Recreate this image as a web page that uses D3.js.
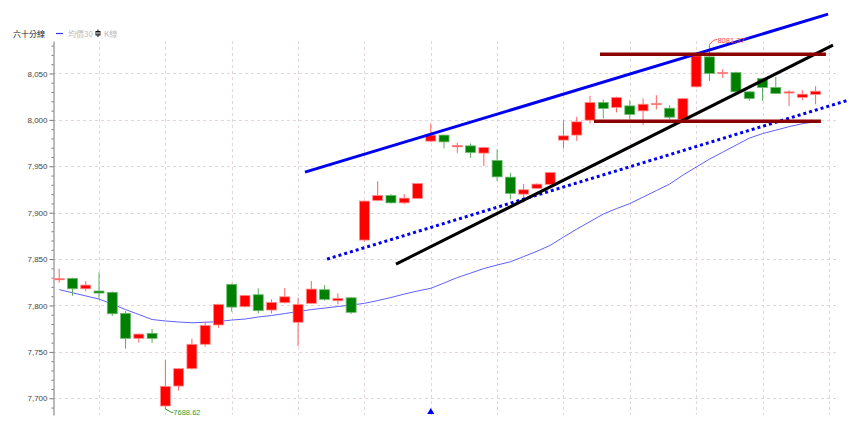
<!DOCTYPE html>
<html><head><meta charset="utf-8">
<script src="https://cdn.jsdelivr.net/npm/d3@7/dist/d3.min.js"></script>
<style>body{margin:0;background:#fff}svg{display:block}</style>
</head><body>
<svg id="c" width="863" height="443"></svg>
<script>
// ---- data ----
const categories = d3.range(58);
const open = [7828,7829.2,7818,7815.6,7814.2,7791.5,7764.6,7770,7691.7,7713.2,
  7731.9,7758.2,7779,7822.8,7798.7,7811.6,7795.1,7803,7781.9,7802.3,
  7817,7805.1,7808.3,7870.5,7913.2,7918.6,7910.6,7915.4,7977.1,7983.6,
  7971,7972,7964.2,7956.3,7938.3,7920,7926.2,7930.5,7978.2,7983.6,
  7999.7,8018.8,8013.4,8015.1,8009.7,8016.9,8012.6,8000.2,8035.6,8067.9,
  8050,8051,8030.2,8044.6,8034.9,8029.1,8024.2,8027.4];
const close = [7829,7818,7822,7813.4,7791.1,7764.6,7769.2,7764.6,7712.9,7731.9,
  7758.2,7778.6,7801.2,7798.3,7810.9,7794.4,7803.4,7809.4,7801.2,7817.7,
  7806.6,7807.7,7792.6,7912.5,7918.6,7910.6,7915.7,7931.5,7983.6,7976.3,
  7972.5,7964.9,7970.3,7938.6,7920.8,7924.7,7930.8,7943.4,7982.8,7997.9,
  8018.8,8012.3,8024.2,8005.8,8016.9,8017.7,8002.9,8022.9,8069,8050,
  8051.1,8030.2,8023.1,8034.9,8028.5,8030.2,8027.7,8030.9];
const high = [7839.6,7830,7826.3,7835.7,7815,7794,7769.5,7774.6,7741.3,7732.5,
  7764.2,7782.5,7802,7823.5,7811.5,7818.5,7806.6,7818.8,7808.3,7826.3,
  7822,7813.1,7809,7913,7934,7920,7920,7932,7996.2,7984,
  7975.3,7974.6,7971,7968.2,7943,7930.8,7931.5,7944,7999.7,8003.3,
  8025.9,8022,8025,8021.2,8023.1,8026.6,8015.9,8023.5,8071,8081.37,
  8054.6,8052,8031,8045,8046.3,8032,8032,8036.3];
const low = [7824.5,7810.5,7815.6,7806.6,7788.6,7753.4,7759.9,7759.9,7688.62,7708.2,
  7731,7755.6,7776,7793.3,7798,7791.5,7791.5,7802.3,7756.3,7802,
  7805.1,7801.2,7790.8,7869,7912.5,7910,7909.2,7915,7976,7969.2,
  7964.5,7959.1,7950.2,7934.3,7914.3,7911,7925.5,7930,7969.2,7977.4,
  7996.2,8001.5,8008,8000.5,7994.3,8011.2,8000.5,7999.5,8035,8042,
  8045.3,8029,8020.5,8020.5,8028,8014.8,8021.2,8016.9];
const ma30 = [7817.1,7813.7,7810.3,7806.9,7801.6,7795.6,7790.3,7784.9,7783.3,7782.2,
  7781.4,7781.9,7782.7,7784.3,7785.4,7787.6,7789.2,7791.3,7793.5,7795.6,
  7797.2,7798.9,7800.5,7802.3,7805.3,7808.6,7812.3,7815.6,7818.5,7824.2,
  7830.1,7834.9,7839.8,7843.6,7847.1,7852.7,7858.4,7864.8,7873.7,7882.3,
  7890.4,7898.5,7904.4,7909.8,7916.8,7923.8,7930.8,7940.5,7949.1,7957.7,
  7965.2,7972.8,7980.3,7985.2,7988.9,7992.7,7995.9,7998.1];
const yTicks = [7700,7750,7800,7850,7900,7950,8000,8050];
const gridIdx = [3,8,13,18,23,28,33,38,43,48,53,58];
const legendTitle = "六十分線";
const legendMA = "均價30";
const legendK = "K線";
const maxLabel = "8081.37", minLabel = "7688.62";
const markerIdx = 28;
// drawn trend lines: [index, value] endpoints
const trendBlue   = [[18.52,7943.7],[57.94,8113.9]];
const trendDotted = [[20.18,7850],[59.44,8021.2]];
const trendBlack  = [[25.38,7844.6],[58.31,8080.5]];
const resistLine  = [[40.75,8070.8],[57.78,8070.8]];
const supportLine = [[40.3,7998.6],[57.4,7998.6]];

// ---- layout ----
const L=53, R=838, T=41, B=415;
const svg = d3.select("#c");
const x = d3.scaleLinear().domain([0,57]).range([59.2,815.6]);
const y = d3.scaleLinear().domain([7682,8085]).range([B,T]);
const UP="#ff0000", DN="#008000";

// grid
const g = svg.append("g");
g.selectAll(".hg").data(yTicks).join("line")
  .attr("x1",L).attr("x2",R).attr("y1",d=>Math.round(y(d))+0.5).attr("y2",d=>Math.round(y(d))+0.5)
  .attr("stroke","#e2d5db").attr("stroke-dasharray","3,3");
g.selectAll(".vg").data(gridIdx).join("line")
  .attr("x1",d=>Math.round(x(d))+0.5).attr("x2",d=>Math.round(x(d))+0.5).attr("y1",T).attr("y2",B)
  .attr("stroke","#e2d5db").attr("stroke-dasharray","3,3");

// y axis
const minor = d3.range(7690,8090,10).filter(v=>v%50!==0);
const ax = svg.append("g").attr("transform",`translate(${L+0.5},0)`)
  .call(d3.axisLeft(y).tickValues(yTicks).tickFormat(d3.format(",")).tickSize(4).tickSizeOuter(0).tickPadding(2));
ax.select(".domain").attr("stroke","#777");
ax.selectAll(".tick line").attr("stroke","#777");
ax.selectAll("text").attr("fill","#444").style("font-family","'Liberation Sans',Arial,sans-serif").style("font-size","8px");
const ax2 = svg.append("g").attr("transform",`translate(${L+0.5},0)`)
  .call(d3.axisLeft(y).tickValues(minor).tickFormat("").tickSize(2).tickSizeOuter(0));
ax2.select(".domain").remove();
ax2.selectAll(".tick line").attr("stroke","#777");

// MA30 line
svg.append("path").datum(categories)
  .attr("d", d3.line().x(i=>x(i)).y(i=>y(ma30[i])))
  .attr("fill","none").attr("stroke","#6060ff").attr("stroke-width",1);

// candles
const cg = svg.append("g");
const bw = 10;
cg.selectAll(".wick").data(categories).join("line")
  .attr("x1",i=>x(i)).attr("x2",i=>x(i))
  .attr("y1",i=>y(high[i])).attr("y2",i=>y(low[i]))
  .attr("stroke",i=>close[i]>=open[i]?"#ff6060":"#5aae5a").attr("stroke-width",1);
cg.selectAll(".body").data(categories).join("rect")
  .attr("x",i=>x(i)-bw/2).attr("width",bw)
  .attr("y",i=>y(Math.max(open[i],close[i])))
  .attr("height",i=>Math.max(1.2,Math.abs(y(open[i])-y(close[i]))))
  .attr("fill",i=>close[i]>=open[i]?UP:DN)
  .attr("stroke",i=>close[i]>=open[i]?"#ff9090":"#70b870").attr("stroke-width",0.8);

// trend lines
const tl = d3.line().x(d=>x(d[0])).y(d=>y(d[1]));
svg.append("path").attr("d",tl(trendBlue)).attr("stroke","#0000f0").attr("stroke-width",3).attr("fill","none");
svg.append("path").attr("d",tl(trendDotted)).attr("stroke","#0000f0").attr("stroke-width",3).attr("stroke-dasharray","3,3").attr("fill","none");
svg.append("path").attr("d",tl(trendBlack)).attr("stroke","#000").attr("stroke-width",3).attr("fill","none");
svg.append("path").attr("d",tl(resistLine)).attr("stroke","#8b0000").attr("stroke-width",3.5).attr("fill","none");
svg.append("path").attr("d",tl(supportLine)).attr("stroke","#8b0000").attr("stroke-width",3.5).attr("fill","none");

// max / min annotations
const iMax = d3.maxIndex(high), iMin = d3.minIndex(low);
const hx = x(iMax), hy = y(high[iMax]);
svg.append("path").attr("d",`M${hx},${hy} L${hx+4},${hy-4} L${hx+8},${hy-5}`).attr("fill","none").attr("stroke","#ff5050");
svg.append("text").attr("x",hx+8).attr("y",hy-1).text(maxLabel)
  .attr("fill","#ff4040").style("font-family","'Liberation Sans',Arial,sans-serif").style("font-size","7.5px");
const lx = x(iMin), ly = y(low[iMin]);
svg.append("path").attr("d",`M${lx},${ly} L${lx+6},${ly+3.5} L${lx+8},${ly+3.5}`).attr("fill","none").attr("stroke","#2e9e2e");
svg.append("text").attr("x",lx+8).attr("y",ly+6).text(minLabel)
  .attr("fill","#2e9e2e").style("font-family","'Liberation Sans',Arial,sans-serif").style("font-size","7.5px");

// bottom marker
svg.append("path").attr("d",d3.symbol(d3.symbolTriangle,22)())
  .attr("transform",`translate(${x(markerIdx)},${B-3})`).attr("fill","#0000ff");

// legend
const lg = svg.append("g").style("font-family","'Noto Sans CJK TC','Noto Sans CJK SC',sans-serif").style("font-size","8px");
lg.append("text").attr("x",13).attr("y",37).attr("fill","#222").text(legendTitle);
lg.append("line").attr("x1",56).attr("x2",63).attr("y1",33.5).attr("y2",33.5).attr("stroke","#3333ff").attr("stroke-width",1.2);
lg.append("text").attr("x",68).attr("y",37).attr("fill","#bbb").text(legendMA);
lg.append("rect").attr("x",96).attr("y",31.5).attr("width",4).attr("height",3.5).attr("fill","none").attr("stroke","#111").attr("stroke-width",1);
lg.append("line").attr("x1",98).attr("x2",98).attr("y1",29.5).attr("y2",37).attr("stroke","#111").attr("stroke-width",1);
lg.append("text").attr("x",104).attr("y",37).attr("fill","#bbb").text(legendK);
</script>
</body></html>
